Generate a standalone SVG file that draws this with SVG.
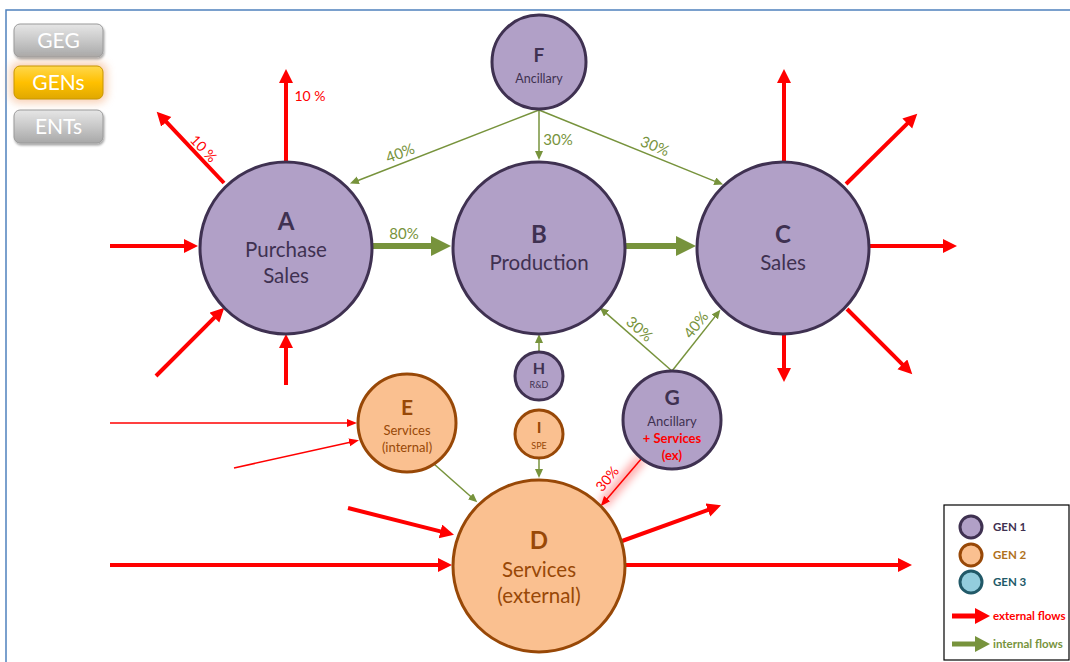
<svg xmlns="http://www.w3.org/2000/svg" width="1070" height="662" viewBox="0 0 1070 662">
<defs>
<style>
.gen1{fill:#B1A0C7;stroke:#3F3151;stroke-width:3}
.gen2{fill:#FAC090;stroke:#984807;stroke-width:3}
.gen3{fill:#93CDDD;stroke:#215968;stroke-width:3}
.t{font-family:Lato,"Open Sans","Liberation Sans",sans-serif;text-anchor:middle}
.t1{fill:#3F3151}
.t2{fill:#984807}
.b{font-weight:bold}
.ext{stroke:#FF0000;stroke-width:4;fill:none}
.extThin{stroke:#FF0000;stroke-width:1.5;fill:none}
.int{stroke:#77933C;stroke-width:1.5;fill:none}
.intThick{stroke:#77933C;stroke-width:6;fill:none}
.lr{fill:#FF0000;font-family:Lato,"Open Sans","Liberation Sans",sans-serif;font-size:14px;text-anchor:middle}
.lg{fill:#77933C;font-family:Lato,"Open Sans","Liberation Sans",sans-serif;font-size:15px;text-anchor:middle}
.btn{font-family:Lato,"Open Sans","Liberation Sans",sans-serif;font-size:21px;fill:#FFFFFF;text-anchor:middle}
.leg{font-family:Lato,"Open Sans","Liberation Sans",sans-serif;font-size:11.5px;font-weight:bold}
</style>
<marker id="mRed" markerUnits="userSpaceOnUse" markerWidth="16" markerHeight="16" refX="1" refY="7" orient="auto">
<path d="M0,0 L14,7 L0,14 z" fill="#FF0000"/>
</marker>
<marker id="mRedThin" markerUnits="userSpaceOnUse" markerWidth="12" markerHeight="10" refX="1" refY="4" orient="auto">
<path d="M0,0 L10,4 L0,8 z" fill="#FF0000"/>
</marker>
<marker id="mGreen" markerUnits="userSpaceOnUse" markerWidth="11" markerHeight="10" refX="1" refY="4" orient="auto">
<path d="M0,0 L9,4 L0,8 z" fill="#77933C"/>
</marker>
<marker id="mGreenThick" markerUnits="userSpaceOnUse" markerWidth="22" markerHeight="22" refX="1" refY="10" orient="auto">
<path d="M0,0 L20,10 L0,20 z" fill="#77933C"/>
</marker>
<linearGradient id="gGray" x1="0" y1="0" x2="0" y2="1">
<stop offset="0" stop-color="#E6E6E6"/>
<stop offset="0.5" stop-color="#C8C8C8"/>
<stop offset="1" stop-color="#A8A8A8"/>
</linearGradient>
<linearGradient id="gYel" x1="0" y1="0" x2="0" y2="1">
<stop offset="0" stop-color="#FFD84D"/>
<stop offset="0.5" stop-color="#FFC000"/>
<stop offset="1" stop-color="#E0A800"/>
</linearGradient>
<filter id="glow" x="-50%" y="-50%" width="200%" height="200%">
<feGaussianBlur stdDeviation="4"/>
</filter>
<filter id="shadow" x="-20%" y="-30%" width="140%" height="160%">
<feDropShadow dx="1" dy="2" stdDeviation="1.2" flood-color="#000" flood-opacity="0.35"/>
</filter>
</defs>

<rect x="0" y="0" width="1070" height="662" fill="#FFFFFF"/>
<path d="M6,662 L6,10 L1070,10" fill="none" stroke="#4F81BD" stroke-width="1.5"/>

<g id="buttons">
<g id="btn-GEG">
<rect x="14" y="24" width="89" height="33" rx="6" fill="url(#gGray)" stroke="#9A9A9A" stroke-width="1" filter="url(#shadow)"/>
<text class="btn" x="58.5" y="48">GEG</text>
</g>
<g id="btn-GENs">
<rect x="10" y="62" width="97" height="41" rx="9" fill="#F4B183" opacity="0.6" filter="url(#glow)"/>
<rect x="14" y="66" width="89" height="33" rx="6" fill="url(#gYel)" stroke="#C89600" stroke-width="1"/>
<text class="btn" x="58.5" y="90">GENs</text>
</g>
<g id="btn-ENTs">
<rect x="14" y="110" width="89" height="33" rx="6" fill="url(#gGray)" stroke="#9A9A9A" stroke-width="1" filter="url(#shadow)"/>
<text class="btn" x="58.5" y="134">ENTs</text>
</g>
</g>

<g id="connectors">
<!-- external red flows -->
<line class="ext" x1="286" y1="161" x2="286" y2="82" marker-end="url(#mRed)"/>
<line class="ext" x1="224" y1="183" x2="165.6" y2="121.2" marker-end="url(#mRed)"/>
<line class="ext" x1="110" y1="246" x2="185" y2="246" marker-end="url(#mRed)"/>
<line class="ext" x1="156" y1="376" x2="215.1" y2="316.9" marker-end="url(#mRed)"/>
<line class="ext" x1="286" y1="385" x2="286" y2="347" marker-end="url(#mRed)"/>
<line class="ext" x1="784" y1="162" x2="784" y2="82" marker-end="url(#mRed)"/>
<line class="ext" x1="846" y1="184" x2="908" y2="122.8" marker-end="url(#mRed)"/>
<line class="ext" x1="869" y1="246" x2="944" y2="246" marker-end="url(#mRed)"/>
<line class="ext" x1="847" y1="309" x2="903.1" y2="365.1" marker-end="url(#mRed)"/>
<line class="ext" x1="784" y1="334" x2="784" y2="369" marker-end="url(#mRed)"/>
<line class="ext" x1="110" y1="565" x2="439" y2="565" marker-end="url(#mRed)"/>
<line class="ext" x1="348" y1="508" x2="441.4" y2="531.6" marker-end="url(#mRed)"/>
<line class="ext" x1="625" y1="565" x2="899" y2="565" marker-end="url(#mRed)"/>
<line class="ext" x1="622" y1="541" x2="708.8" y2="509.7" marker-end="url(#mRed)"/>
<line class="extThin" x1="110" y1="423" x2="348" y2="423" marker-end="url(#mRedThin)"/>
<line class="extThin" x1="234" y1="468" x2="350.2" y2="442.2" marker-end="url(#mRedThin)"/>
<!-- G to D with glow -->
<line x1="642" y1="458" x2="602" y2="505" stroke="#FF0000" stroke-width="10" opacity="0.35" filter="url(#glow)"/>
<line class="extThin" x1="642" y1="458" x2="606.5" y2="499.4" marker-end="url(#mRedThin)"/>

<!-- internal green flows -->
<line class="int" x1="539" y1="110" x2="357.4" y2="180.7" marker-end="url(#mGreen)"/>
<line class="int" x1="539" y1="110" x2="539" y2="152" marker-end="url(#mGreen)"/>
<line class="int" x1="539" y1="110" x2="715.7" y2="181.6" marker-end="url(#mGreen)"/>
<line class="int" x1="539" y1="352" x2="539" y2="342" marker-end="url(#mGreen)"/>
<line class="int" x1="539" y1="458" x2="539" y2="470" marker-end="url(#mGreen)"/>
<line class="int" x1="434" y1="464" x2="471.3" y2="497" marker-end="url(#mGreen)"/>
<line class="int" x1="672" y1="371" x2="605.8" y2="312.9" marker-end="url(#mGreen)"/>
<line class="int" x1="672" y1="371" x2="715.4" y2="316.1" marker-end="url(#mGreen)"/>
<line class="intThick" x1="372" y1="246" x2="432" y2="246" marker-end="url(#mGreenThick)"/>
<line class="intThick" x1="625" y1="246" x2="677" y2="246" marker-end="url(#mGreenThick)"/>

<!-- labels -->
<text class="lr" x="310" y="101">10 %</text>
<text class="lr" transform="translate(200,152) rotate(46.6)">10 %</text>
<text class="lr" transform="translate(611,482) rotate(-50)">30%</text>
<text class="lg" transform="translate(402,158) rotate(-21)">40%</text>
<text class="lg" x="558" y="145">30%</text>
<text class="lg" transform="translate(653,151) rotate(22)">30%</text>
<text class="lg" x="404" y="239">80%</text>
<text class="lg" transform="translate(636,333) rotate(41)">30%</text>
<text class="lg" transform="translate(700,328) rotate(-52)">40%</text>
</g>

<g id="node-A">
<circle class="gen1" cx="286" cy="248" r="86"/>
<text class="t t1 b" x="286" y="230" font-size="24">A</text>
<text class="t t1" x="286" y="257" font-size="20.5">Purchase</text>
<text class="t t1" x="286" y="283" font-size="20.5">Sales</text>
</g>
<g id="node-B">
<circle class="gen1" cx="539" cy="248" r="86"/>
<text class="t t1 b" x="539" y="243" font-size="24">B</text>
<text class="t t1" x="539" y="270" font-size="20.5">Production</text>
</g>
<g id="node-C">
<circle class="gen1" cx="783" cy="248" r="86"/>
<text class="t t1 b" x="783" y="243" font-size="24">C</text>
<text class="t t1" x="783" y="270" font-size="20.5">Sales</text>
</g>
<g id="node-F">
<circle class="gen1" cx="539" cy="62" r="47"/>
<text class="t t1 b" x="539" y="62" font-size="19">F</text>
<text class="t t1" x="539" y="83" font-size="12.5">Ancillary</text>
</g>
<g id="node-H">
<circle class="gen1" cx="539" cy="376" r="24"/>
<text class="t t1 b" x="539" y="374" font-size="16">H</text>
<text class="t t1" x="539" y="388" font-size="9">R&amp;D</text>
</g>
<g id="node-I">
<circle class="gen2" cx="539" cy="434" r="24"/>
<text class="t t2 b" x="539" y="433" font-size="16">I</text>
<text class="t t2" x="539" y="449" font-size="9">SPE</text>
</g>
<g id="node-G">
<circle class="gen1" cx="672" cy="420" r="49"/>
<text class="t t1 b" x="672" y="405" font-size="21">G</text>
<text class="t t1" x="672" y="426" font-size="13">Ancillary</text>
<text class="t b" x="672" y="443" font-size="13" fill="#FF0000">+ Services</text>
<text class="t b" x="672" y="460" font-size="13" fill="#FF0000">(ex)</text>
</g>
<g id="node-E">
<circle class="gen2" cx="407" cy="423" r="49"/>
<text class="t t2 b" x="407" y="415" font-size="21">E</text>
<text class="t t2" x="407" y="435" font-size="13">Services</text>
<text class="t t2" x="407" y="452" font-size="13">(internal)</text>
</g>
<g id="node-D">
<circle class="gen2" cx="539" cy="566" r="86"/>
<text class="t t2 b" x="539" y="549" font-size="24">D</text>
<text class="t t2" x="539" y="577" font-size="20.5">Services</text>
<text class="t t2" x="539" y="603" font-size="20.5">(external)</text>
</g>

<g id="legend">
<rect x="944" y="505" width="125" height="155" fill="#FFFFFF" stroke="#000000" stroke-width="1.2"/>
<circle class="gen1" cx="971" cy="527" r="11"/>
<text class="leg" x="993" y="531" fill="#3F3151">GEN 1</text>
<circle class="gen2" cx="971" cy="555" r="11"/>
<text class="leg" x="993" y="559" fill="#B07020">GEN 2</text>
<circle class="gen3" cx="971" cy="582" r="11"/>
<text class="leg" x="993" y="586" fill="#215968">GEN 3</text>
<line x1="952" y1="616" x2="976" y2="616" stroke="#FF0000" stroke-width="5"/>
<path d="M975,608 L990,616 L975,624 z" fill="#FF0000"/>
<text class="leg" x="993" y="620" fill="#FF0000">external flows</text>
<line x1="952" y1="644" x2="976" y2="644" stroke="#77933C" stroke-width="5"/>
<path d="M975,636 L990,644 L975,652 z" fill="#77933C"/>
<text class="leg" x="993" y="648" fill="#77933C">internal flows</text>
</g>
</svg>
